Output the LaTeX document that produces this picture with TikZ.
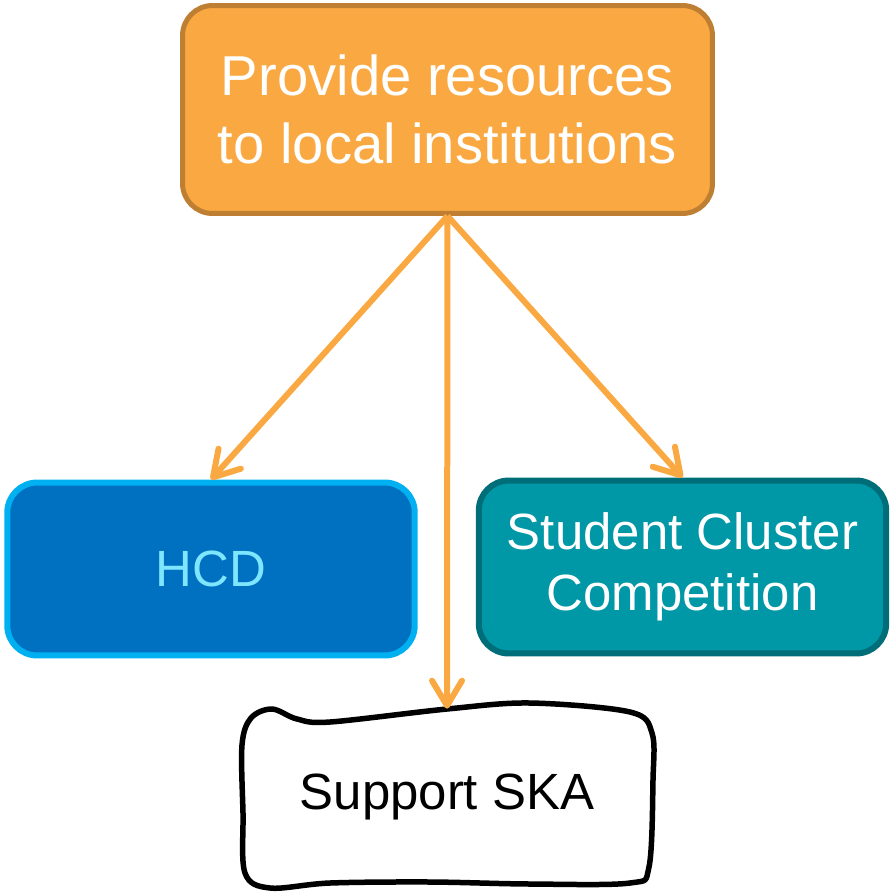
\documentclass[tikz,border=0pt]{standalone}
\usepackage{fontspec}
\setmainfont{Liberation Sans}
\usepackage{tikz}
\usetikzlibrary{shapes,arrows.meta}
\definecolor{goalfill}{HTML}{FAA942}
\definecolor{goalline}{HTML}{BE7F33}
\definecolor{hcdfill}{HTML}{0070C0}
\definecolor{hcdline}{HTML}{00B0F0}
\definecolor{hcdtext}{HTML}{7FE6FF}
\definecolor{sccfill}{HTML}{0097A7}
\definecolor{sccline}{HTML}{006E78}
\tikzstyle{goal} = [rectangle, draw=goalline, fill=goalfill, line width=0.1cm,
    text=white, align=center, rounded corners=0.6cm,
    minimum width=10.6cm, minimum height=4.16cm,
    font=\fontsize{32}{38.6}\selectfont]
\tikzstyle{task} = [rectangle, draw, line width=0.12cm, align=center,
    rounded corners=0.6cm, minimum width=8.15cm, minimum height=3.46cm,
    font=\fontsize{29}{34.7}\selectfont]
\tikzstyle{link} = [goalfill, line width=0.12cm,
    -{Straight Barb[length=0.5cm,width=0.6cm,round]}]

\begin{document}
\begin{tikzpicture}[x=0.02cm, y=-0.02cm]
    \useasboundingbox (0,0) rectangle (891,893);
    % Place nodes
    % Goal
    \node [goal] (goal) at (447.5,109.5) {Provide resources\\to local institutions};
    % Tasks
    \node [task, draw=hcdline, fill=hcdfill, text=hcdtext] (hcd) at (211,569) {HCD};
    \node [task, draw=sccline, fill=sccfill, text=white] (scc) at (682.5,567) {Student Cluster\\Competition};
    \node [minimum width=8.1cm, minimum height=3.52cm,
        font=\fontsize{29}{34.7}\selectfont] (ska) at (447,797) {Support SKA};
    % Hand drawn border
    \draw [line width=0.11cm, line join=round] plot [smooth cycle, tension=0.55] coordinates {
        (242,745) (251,718) (272,709) (297,719) (330,722) (447,709) (530,703)
        (630,712) (652,733) (653,780) (649,867) (630,883) (530,884) (430,882)
        (330,883) (270,888) (245,873) (243,813)};

    % Draw edges
    \draw [link] (goal.south) -- (hcd.north);
    \draw [link] (goal.south) -- (scc.north);
    \draw [link] (goal.south) -- (ska.north);

\end{tikzpicture}
\end{document}
